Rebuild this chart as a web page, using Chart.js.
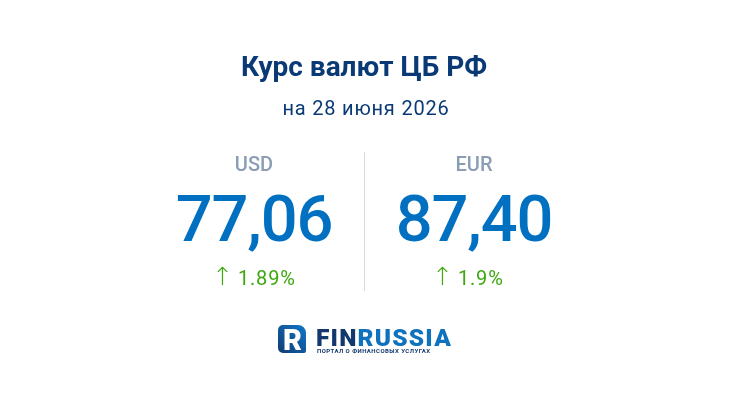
<!DOCTYPE html>
<html>
<head>
<meta charset="utf-8">
<script src="https://cdn.jsdelivr.net/npm/chart.js@4"></script>
<style>
  html, body { margin: 0; padding: 0; background: #fff; }
  #wrap { width: 730px; height: 410px; }
</style>
</head>
<body>
<div id="wrap"><canvas id="myChart" width="730" height="410"></canvas></div>
<script>
const titleText = 'Курс валют ЦБ РФ';
const subtitleText = 'на 28 июня 2026';
const currencies = ['USD', 'EUR'];
const rates = [77.06, 87.40];
const changes = ['1.89', '1.9'];
const logoName = ['FIN', 'RUSSIA'];
const logoSlogan = 'ПОРТАЛ О ФИНАНСОВЫХ УСЛУГАХ';

const navy = '#0a3a75';
const blue = '#0170c1';
const green = '#3fa70f';

function drawLogo(ctx) {
  const grad = ctx.createLinearGradient(278, 353, 306, 325);
  grad.addColorStop(0, '#123a72');
  grad.addColorStop(1, '#0f78c8');
  // icon
  ctx.fillStyle = grad;
  ctx.beginPath();
  ctx.roundRect(278, 325, 28, 28, [5, 8, 2, 5]);
  ctx.fill();
  ctx.fillStyle = '#fff';
  ctx.font = '900 29px Roboto';
  ctx.textAlign = 'center';
  ctx.textBaseline = 'alphabetic';
  ctx.fillText('R', 292.5, 349.5);

  ctx.textAlign = 'left';
  ctx.font = '900 24.5px Roboto';
  ctx.letterSpacing = '1.2px';
  ctx.fillStyle = '#12386f';
  ctx.fillText(logoName[0], 316, 346);
  const w = ctx.measureText(logoName[0]).width;
  ctx.fillStyle = '#0f72bd';
  ctx.fillText(logoName[1], 316 + w, 346);

  ctx.font = '700 6px Roboto';
  ctx.letterSpacing = '0.45px';
  ctx.fillStyle = '#12386f';
  ctx.fillText(logoSlogan, 317, 353);
  ctx.letterSpacing = '0px';
}

const cardPlugin = {
  id: 'card',
  afterDraw(chart) {
    const { ctx } = chart;
    const x = chart.scales.x;
    const cx = currencies.map((c, i) => x.getPixelForValue(i));
    const mid = Math.round((cx[0] + cx[1]) / 2);
    ctx.save();

    // subtitle is tracked, the library's subtitle can't do that
    ctx.textAlign = 'center';
    ctx.textBaseline = 'alphabetic';
    ctx.font = '400 20px Roboto';
    ctx.letterSpacing = '0.8px';
    ctx.fillStyle = navy;
    ctx.fillText(subtitleText, mid + 2, 115);

    // divider between the two columns
    ctx.strokeStyle = '#d3dbe3';
    ctx.lineWidth = 1;
    ctx.beginPath();
    ctx.moveTo(mid + 0.5, 152);
    ctx.lineTo(mid + 0.5, 291);
    ctx.stroke();

    rates.forEach((v, i) => {
      ctx.textAlign = 'center';
      ctx.font = '500 65px Roboto';
      ctx.letterSpacing = '-1.2px';
      ctx.fillStyle = blue;
      ctx.fillText(v.toFixed(2).replace('.', ','), cx[i], 241);

      ctx.textAlign = 'left';
      ctx.fillStyle = green;
      ctx.letterSpacing = '0px';
      ctx.font = '200 25px "DejaVu Sans"';
      ctx.fillText('↑', cx[i] - 42, 285);
      ctx.font = '400 20px Roboto';
      ctx.letterSpacing = '0.8px';
      ctx.fillText(changes[i] + '%', cx[i] - 16, 285);
    });

    ctx.letterSpacing = '0px';
    drawLogo(ctx);
    ctx.restore();
  }
};

new Chart(document.getElementById('myChart').getContext('2d'), {
  type: 'bar',
  data: {
    labels: currencies,
    datasets: [{
      data: rates,
      backgroundColor: 'transparent',
      borderWidth: 0
    }]
  },
  options: {
    responsive: false,
    animation: false,
    events: [],
    layout: { padding: { top: 52, left: 144, right: 146, bottom: 119 } },
    plugins: {
      legend: { display: false },
      tooltip: { enabled: false },
      title: {
        display: true,
        text: titleText,
        color: navy,
        font: { family: 'Roboto', size: 28, weight: '700' },
        padding: { top: 0, bottom: 68 }
      }
    },
    scales: {
      x: {
        position: 'top',
        border: { display: false },
        grid: { display: false },
        ticks: {
          color: '#8a9db5',
          padding: 0,
          maxRotation: 0,
          font: { family: 'Roboto', size: 20, weight: '500' }
        }
      },
      y: { display: false, min: 0, max: 100 }
    }
  },
  plugins: [cardPlugin]
});
</script>
</body>
</html>
